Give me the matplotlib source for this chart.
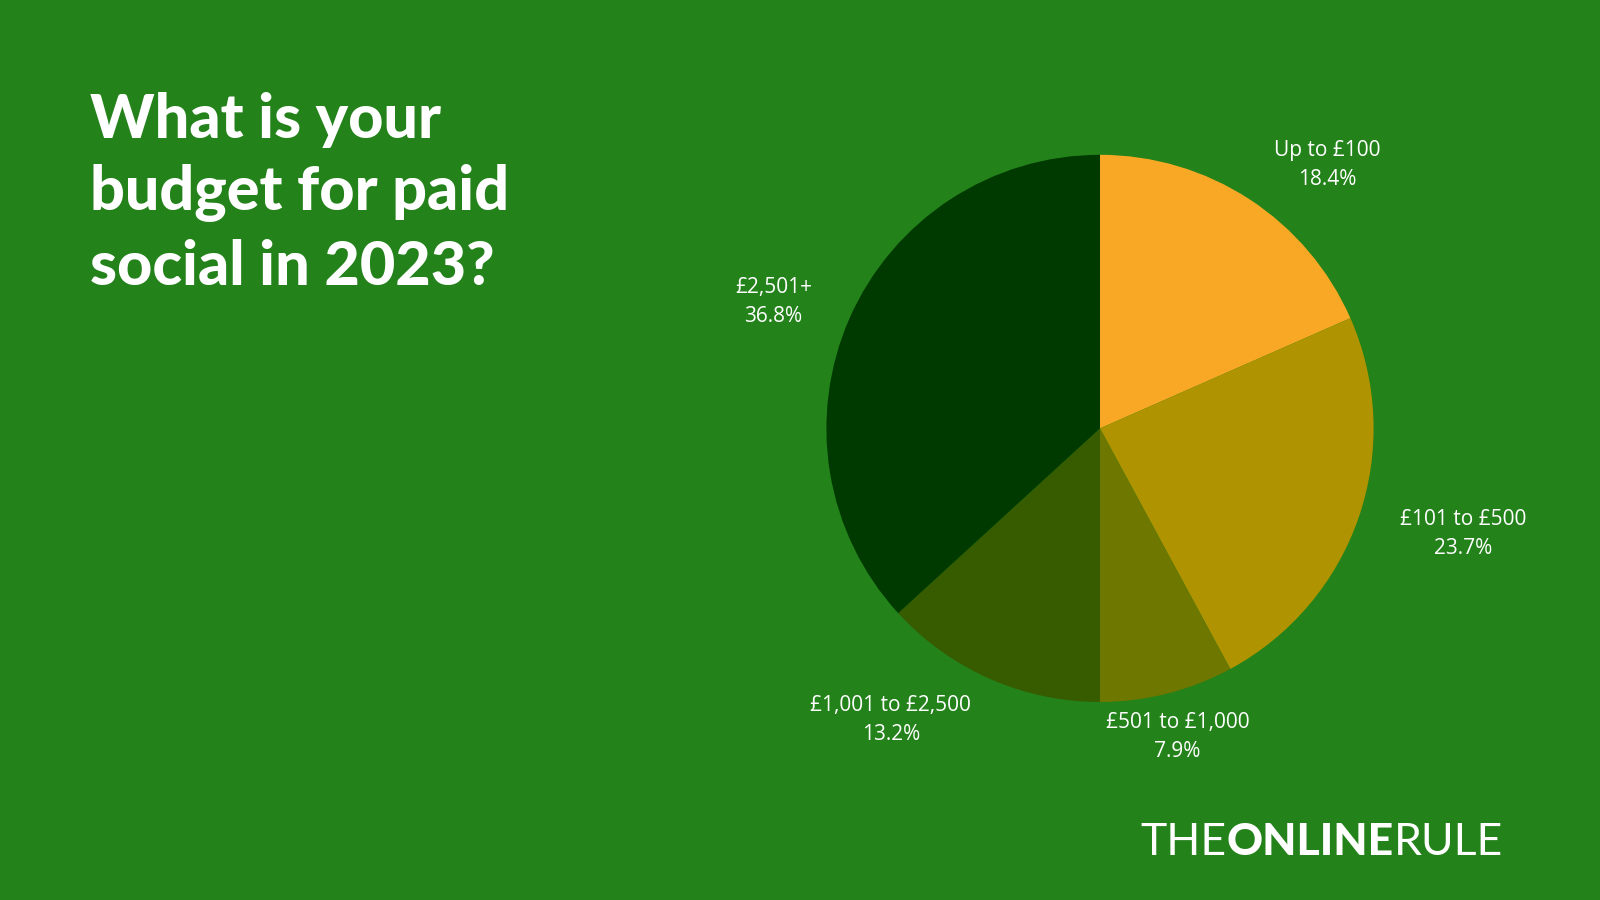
import matplotlib
matplotlib.use("Agg")
import matplotlib.pyplot as plt

# survey data
categories = ["Up to £100", "£101 to £500", "£501 to £1,000", "£1,001 to £2,500", "£2,501+"]
shares = [18.4, 23.7, 7.9, 13.2, 36.8]
colors = ["#F9A825", "#AF9300", "#6E7700", "#375C00", "#003A00"]
bg = "#23821A"

title = "What is your\nbudget for paid\nsocial in 2023?"

# label anchors in figure fractions (layout only)
label_pos = [(0.8297, 0.817), (0.9145, 0.407), (0.7360, 0.181), (0.5568, 0.200), (0.4834, 0.664)]

fig = plt.figure(figsize=(16, 9), dpi=100, facecolor=bg)

# pie axes: centre ~ (0.6875, 0.524), radius 0.304 of height
r_h = 0.304
w = 2 * r_h * 9 / 16
ax = fig.add_axes([0.6875 - w / 2, 0.524 - r_h, w, 2 * r_h])
ax.pie(shares, colors=colors, startangle=90, counterclock=False,
       wedgeprops=dict(linewidth=0), radius=1.0)
ax.set_xlim(-1, 1)
ax.set_ylim(-1, 1)
ax.set_aspect("equal")
ax.axis("off")

for (x, y), cat, val in zip(label_pos, categories, shares):
    fig.text(x, y, f"{cat}\n{val}%", ha="center", va="center", color="white",
             fontsize=15, family="Open Sans", linespacing=1.5)

fig.text(0.0565, 0.898, title, ha="left", va="top", color="white",
         fontsize=44, family="Lato", fontweight="black", linespacing=1.36)

# logo
renderer = fig.canvas.get_renderer()
x0, y0 = 0.713, 0.050
for part, wt in [("THE", "normal"), ("ONLINE", "black"), ("RULE", "normal")]:
    t = fig.text(x0, y0, part, ha="left", va="baseline", color="white",
                 fontsize=32, family="Lato", fontweight=wt)
    bb = t.get_window_extent(renderer)
    x0 += bb.width / fig.bbox.width

fig.savefig("out.png", facecolor=bg)
